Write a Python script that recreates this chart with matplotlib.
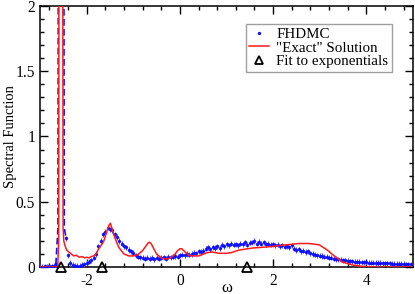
import matplotlib

matplotlib.use("Agg")
import matplotlib.pyplot as plt  # noqa: E402
from matplotlib.lines import Line2D  # noqa: E402
from matplotlib.ticker import MultipleLocator, FuncFormatter  # noqa: E402

# FHDMC points (omega, A(omega))
fh_x = [-3.00, -2.95, -2.90, -2.85, -2.80, -2.75, -2.70, -2.65,
        -2.45, -2.40, -2.35, -2.30, -2.25, -2.20, -2.15, -2.10, -2.05, -2.00,
        -1.95, -1.90, -1.85, -1.80, -1.75, -1.70, -1.65, -1.60, -1.55, -1.50,
        -1.45, -1.40, -1.35, -1.30, -1.25, -1.20, -1.15, -1.10, -1.05, -1.00,
        -0.95, -0.90, -0.85, -0.80, -0.75, -0.70, -0.65, -0.60, -0.55, -0.50,
        -0.45, -0.40, -0.35, -0.30, -0.25, -0.20, -0.15, -0.10, -0.05, 0.00,
        0.05, 0.10, 0.15, 0.20, 0.25, 0.30, 0.35, 0.40, 0.45, 0.50,
        0.55, 0.60, 0.65, 0.70, 0.75, 0.80, 0.85, 0.90, 0.95, 1.00,
        1.05, 1.10, 1.15, 1.20, 1.25, 1.30, 1.35, 1.40, 1.45, 1.50,
        1.55, 1.60, 1.65, 1.70, 1.75, 1.80, 1.85, 1.90, 1.95, 2.00,
        2.05, 2.10, 2.15, 2.20, 2.25, 2.30, 2.35, 2.40, 2.45, 2.50,
        2.55, 2.60, 2.65, 2.70, 2.75, 2.80, 2.85, 2.90, 2.95, 3.00,
        3.05, 3.10, 3.15, 3.20, 3.25, 3.30, 3.35, 3.40, 3.45, 3.50,
        3.55, 3.60, 3.65, 3.70, 3.75, 3.80, 3.85, 3.90, 3.95, 4.00,
        4.05, 4.10, 4.15, 4.20, 4.25, 4.30, 4.35, 4.40, 4.45, 4.50,
        4.55, 4.60, 4.65, 4.70, 4.75, 4.80, 4.85, 4.90, 4.95]
fh_y = [0.003, 0.002, 0.004, 0.003, 0.005, 0.004, 0.008, 0.02,
        0.22, 0.09, 0.03, 0.015, 0.01, 0.008, 0.01, 0.015, 0.02, 0.03,
        0.04, 0.05, 0.07, 0.10, 0.16, 0.20, 0.25, 0.27, 0.30, 0.29,
        0.28, 0.25, 0.23, 0.20, 0.18, 0.16, 0.15, 0.13, 0.12, 0.11,
        0.09, 0.08, 0.075, 0.07, 0.065, 0.07, 0.065, 0.07, 0.06, 0.07,
        0.065, 0.07, 0.075, 0.065, 0.08, 0.075, 0.08, 0.085, 0.08, 0.09,
        0.095, 0.09, 0.10, 0.095, 0.10, 0.11, 0.105, 0.12, 0.115, 0.125,
        0.14, 0.15, 0.135, 0.15, 0.145, 0.16, 0.145, 0.17, 0.16, 0.175,
        0.165, 0.18, 0.17, 0.175, 0.165, 0.18, 0.175, 0.19, 0.17, 0.185,
        0.19, 0.20, 0.18, 0.195, 0.18, 0.19, 0.175, 0.18, 0.17, 0.175,
        0.165, 0.17, 0.16, 0.165, 0.155, 0.16, 0.15, 0.165, 0.14, 0.13,
        0.135, 0.12, 0.125, 0.115, 0.12, 0.105, 0.10, 0.095, 0.09, 0.088,
        0.085, 0.08, 0.078, 0.072, 0.07, 0.065, 0.062, 0.058, 0.055, 0.052,
        0.05, 0.047, 0.045, 0.043, 0.04, 0.04, 0.038, 0.037, 0.036, 0.035,
        0.033, 0.033, 0.032, 0.031, 0.03, 0.03, 0.028, 0.029, 0.027, 0.027,
        0.026, 0.025, 0.025, 0.024, 0.023, 0.023, 0.022, 0.021, 0.02]
FH_ERR = 0.02

# the FHDMC quasiparticle peak runs off the top (drawn dashed)
pk_x = [-2.66, -2.615, -2.605, -2.49, -2.48, -2.44]
pk_y = [0.02, 0.30, 3.0, 3.0, 0.30, 0.22]

# "Exact" solution
ex_x = [-3.0, -2.62, -2.60, -2.585, -2.52, -2.505, -2.49, -2.47, -2.43, -2.38,
        -2.33, -2.28, -2.22, -2.16, -2.10, -2.04, -2.00, -1.95, -1.90, -1.85,
        -1.80, -1.74, -1.68, -1.63, -1.57, -1.52, -1.49, -1.46, -1.42, -1.38,
        -1.31, -1.20, -1.10, -1.00, -0.90, -0.80, -0.73, -0.68, -0.65, -0.61,
        -0.56, -0.50, -0.45, -0.38, -0.30, -0.20, -0.10, -0.05, 0.00, 0.04,
        0.10, 0.17, 0.24, 0.41, 0.58, 0.69, 0.84, 0.99, 1.10, 1.27,
        1.55, 1.91, 2.28, 2.56, 2.77, 2.99, 3.16, 3.31, 3.48, 3.70,
        3.91, 4.20, 5.0]
ex_y = [0.0, 0.0, 0.2, 5.0, 5.0, 0.3, 0.2, 0.17, 0.13, 0.115,
        0.10, 0.085, 0.09, 0.075, 0.08, 0.07, 0.075, 0.07, 0.08, 0.085,
        0.10, 0.14, 0.17, 0.20, 0.27, 0.32, 0.335, 0.30, 0.25, 0.21,
        0.15, 0.10, 0.085, 0.085, 0.095, 0.125, 0.16, 0.185, 0.19, 0.175,
        0.14, 0.10, 0.085, 0.065, 0.06, 0.07, 0.10, 0.125, 0.14, 0.14,
        0.12, 0.095, 0.085, 0.085, 0.11, 0.115, 0.105, 0.105, 0.11, 0.13,
        0.145, 0.155, 0.17, 0.18, 0.18, 0.17, 0.13, 0.085, 0.04, 0.015,
        0.005, 0.0, 0.0]

# exponential-fit energies
fit_x = [-2.56, -1.66, 1.44]
fit_y = [0.0, 0.0, 0.0]

BLUE, RED = "#1010ff", "#ff1a1a"

plt.rcParams.update({"font.family": ["Liberation Serif", "DejaVu Serif"],
                     "axes.unicode_minus": False})

fig = plt.figure(figsize=(4.15, 2.94), dpi=100)
ax = fig.add_axes([0.0964, 0.0918, 0.8988, 0.8882])

ax.errorbar(fh_x, fh_y, yerr=FH_ERR, fmt="o", ms=2.4, color=BLUE, ecolor="#4a4aff",
            elinewidth=0.8, capsize=1.3, capthick=0.8, mew=0, zorder=3)
ax.plot(pk_x, pk_y, color=BLUE, lw=1.2, ls=(0, (4, 2)), zorder=3)
ax.plot(ex_x, ex_y, color=RED, lw=1.1, zorder=4)
ax.plot(fit_x, fit_y, ls="none", marker="^", ms=6.5, mfc="none", mec="black", mew=1.3,
        clip_on=False, zorder=6)

ax.set_xlim(-3, 5)
ax.set_ylim(0, 2)
ax.xaxis.set_major_locator(MultipleLocator(2))
ax.xaxis.set_minor_locator(MultipleLocator(0.4))
ax.yaxis.set_major_locator(MultipleLocator(0.5))
ax.yaxis.set_minor_locator(MultipleLocator(0.1))
ax.xaxis.set_major_formatter(FuncFormatter(lambda v, p: f"{v:g}"))
ax.yaxis.set_major_formatter(FuncFormatter(lambda v, p: f"{v:g}"))
ax.tick_params(which="both", direction="in", top=True, right=True, labelsize=11.2, width=1)
ax.tick_params(which="major", length=6)
ax.tick_params(which="minor", length=3)
ax.tick_params(axis="x", which="major", pad=4)
ax.tick_params(axis="y", which="major", pad=3.5)
for s in ax.spines.values():
    s.set_linewidth(1.1)

ax.set_xlabel("ω", fontsize=12)
ax.set_ylabel("Spectral Function", fontsize=10.5, va="baseline")
ax.xaxis.set_label_coords(0.5, -0.048)
ax.yaxis.set_label_coords(-0.071, 0.5)

handles = [
    Line2D([], [], ls="none", marker="o", ms=2.4, mew=0, color=BLUE),
    Line2D([], [], color=RED, lw=1.1),
    Line2D([], [], ls="none", marker="^", ms=6, mfc="none", mec="black", mew=1.3),
]
labels = ["FHDMC", '"Exact" Solution', "Fit to exponentials"]
leg = ax.legend(handles, labels, loc="upper right", bbox_to_anchor=(0.944, 0.931),
                borderaxespad=0, fontsize=10.8, frameon=True, fancybox=False,
                handlelength=1.3, handletextpad=0.5, labelspacing=0.0, borderpad=0.25)
leg.get_frame().set_edgecolor("#888888")
leg.get_frame().set_linewidth(1.0)

fig.savefig("out.png", dpi=100, facecolor="white")
